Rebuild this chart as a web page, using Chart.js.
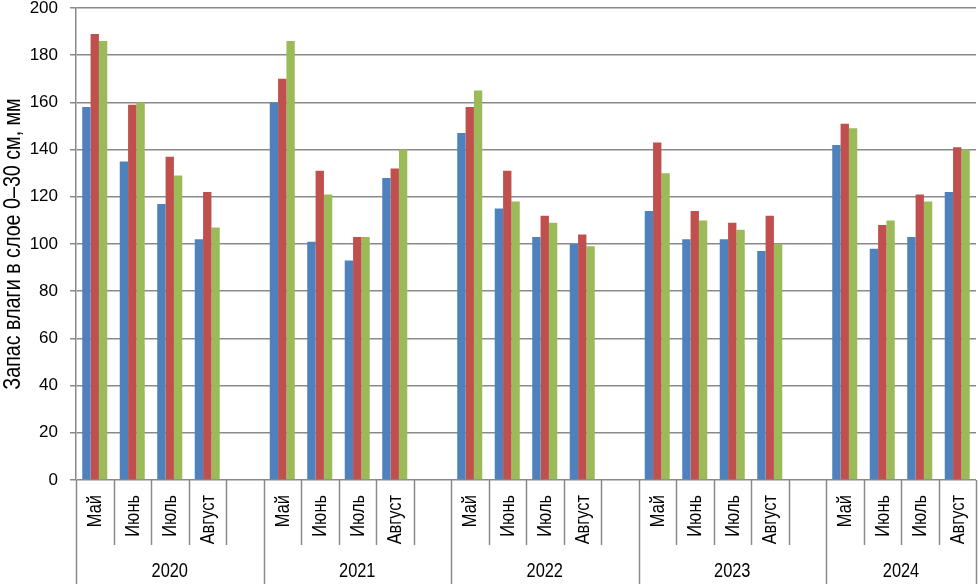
<!DOCTYPE html>
<html>
<head>
<meta charset="utf-8">
<script src="https://cdn.jsdelivr.net/npm/chart.js@4.4.1/dist/chart.umd.min.js"></script>
<style>
  html, body { margin: 0; padding: 0; background: #fff; }
  #wrap { width: 979px; height: 584px; }
</style>
</head>
<body>
<div id="wrap"><canvas id="chart" width="979" height="584"></canvas></div>
<script>
// Data
const categories = [
    'Май', 'Июнь', 'Июль', 'Август', '',
    'Май', 'Июнь', 'Июль', 'Август', '',
    'Май', 'Июнь', 'Июль', 'Август', '',
    'Май', 'Июнь', 'Июль', 'Август', '',
    'Май', 'Июнь', 'Июль', 'Август'
];
const years = ['2020', '2021', '2022', '2023', '2024'];
const slotsPerYear = 5;
const yTitle = 'Запас влаги в слое 0–30 см, мм';

const seriesBlue  = [158, 135, 117, 102, null, 160, 101,  93, 128, null, 147, 115, 103, 100, null, 114, 102, 102,  97, null, 142,  98, 103, 122];
const seriesRed   = [189, 159, 137, 122, null, 170, 131, 103, 132, null, 158, 131, 112, 104, null, 143, 114, 109, 112, null, 151, 108, 121, 141];
const seriesGreen = [186, 160, 129, 107, null, 186, 121, 103, 140, null, 165, 118, 109,  99, null, 130, 110, 106, 100, null, 149, 110, 118, 140];

const yTicks = { min: 0, max: 200, step: 20 };

const GRID = '#8a8a8a';
const FONT = '"Liberation Sans", Arial, sans-serif';
const NARROW = 0.82; // no narrow font installed, squeeze text instead

// Draws the two-level category axis (months + years with separators) and the y title
const groupAxis = {
    id: 'groupAxis',
    afterDraw(chart) {
        const ctx = chart.ctx;
        const x = chart.scales.x;
        const area = chart.chartArea;
        const top = area.bottom;
        const n = categories.length;
        const half = (x.getPixelForValue(1) - x.getPixelForValue(0)) / 2;
        const edge = i => (i < n ? x.getPixelForValue(i) - half : x.getPixelForValue(n - 1) + half);

        ctx.save();
        ctx.strokeStyle = GRID;
        ctx.lineWidth = 1.5;
        for (let i = 0; i <= n; i++) {
            const bx = Math.round(edge(i)) + 0.5;
            const isYear = i % slotsPerYear === 0 || i === n;
            ctx.beginPath();
            ctx.moveTo(bx, top);
            ctx.lineTo(bx, isYear ? chart.height : top + 65);
            ctx.stroke();
        }

        ctx.fillStyle = '#000';
        ctx.textBaseline = 'middle';

        // month labels, rotated
        ctx.font = '20px ' + FONT;
        ctx.textAlign = 'right';
        categories.forEach((label, i) => {
            if (!label) return;
            ctx.save();
            ctx.translate(x.getPixelForValue(i) + 1, top + 15);
            ctx.rotate(-Math.PI / 2);
            ctx.scale(NARROW, 1);
            ctx.fillText(label, 0, 0);
            ctx.restore();
        });

        // year labels
        ctx.textAlign = 'center';
        years.forEach((yr, k) => {
            const xs = edge(k * slotsPerYear);
            const xe = edge(Math.min((k + 1) * slotsPerYear, n));
            ctx.save();
            ctx.translate((xs + xe) / 2, top + 91);
            ctx.scale(NARROW, 1);
            ctx.fillText(yr, 0, 0);
            ctx.restore();
        });

        // y axis title
        ctx.font = '24px ' + FONT;
        ctx.save();
        ctx.translate(13, (area.top + area.bottom) / 2);
        ctx.rotate(-Math.PI / 2);
        ctx.scale(NARROW, 1);
        ctx.fillText(yTitle, 0, 0);
        ctx.restore();

        ctx.restore();
    }
};

const ctx = document.getElementById('chart').getContext('2d');
const chart = new Chart(ctx, {
    type: 'bar',
    data: {
        labels: categories,
        datasets: [
            { label: 'Ряд 1', data: seriesBlue, backgroundColor: '#4F81BD' },
            { label: 'Ряд 2', data: seriesRed, backgroundColor: '#C0504D' },
            { label: 'Ряд 3', data: seriesGreen, backgroundColor: '#9BBB59' }
        ]
    },
    options: {
        responsive: false,
        animation: false,
        devicePixelRatio: 1,
        layout: { padding: { top: 8, right: 3, left: 0, bottom: 0 } },
        datasets: {
            bar: { categoryPercentage: 0.667, barPercentage: 1.0, borderWidth: 0 }
        },
        plugins: {
            legend: { display: false },
            tooltip: { enabled: false }
        },
        scales: {
            x: {
                offset: true,
                grid: { display: false },
                border: { display: false },
                ticks: { display: false },
                afterFit: s => { s.height = 104; s.paddingLeft = 0; s.paddingRight = 0; }
            },
            y: {
                min: yTicks.min,
                max: yTicks.max,
                ticks: {
                    stepSize: yTicks.step,
                    color: '#000',
                    padding: 12,
                    font: { family: FONT, size: 17 }
                },
                grid: { color: GRID, lineWidth: 1.5, tickLength: 6, tickColor: GRID },
                border: { color: GRID, width: 1.5 },
                afterFit: s => { s.width = 76; s.paddingTop = 0; s.paddingBottom = 0; }
            }
        }
    },
    plugins: [groupAxis]
});
</script>
</body>
</html>
